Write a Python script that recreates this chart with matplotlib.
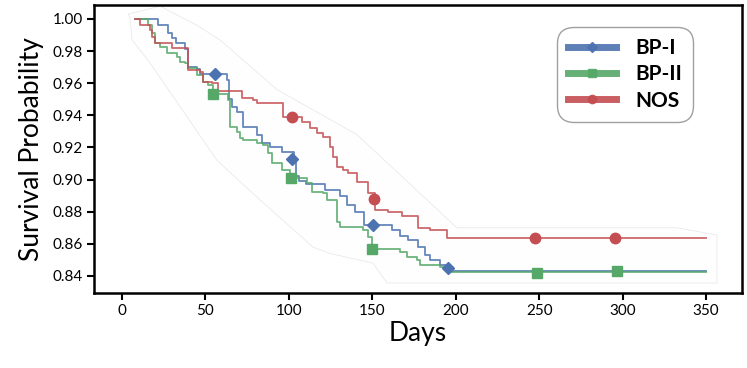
import matplotlib
matplotlib.use("Agg")
import matplotlib.pyplot as plt
import numpy as np
from matplotlib.lines import Line2D

plt.rcParams["font.family"] = ["Lato", "DejaVu Sans"]

# ---- data ----
bp1_days = [8, 21.6, 27.6, 30, 32.4, 37.7, 39.5, 44.9, 46.7, 62.9,
            64.1, 65.9, 68.9, 72.5, 80.9, 83.9, 88.7, 96, 103, 104.5,
            106, 110, 121.6, 130.6, 134.8, 139.6, 145, 161.8, 166.6, 171.4,
            177.4, 181.5, 184.5, 190.5, 194.7, 350]
bp1_surv = [1.0, 0.996, 0.991, 0.988, 0.985, 0.981, 0.970, 0.969, 0.966, 0.962,
            0.950, 0.945, 0.942, 0.933, 0.928, 0.923, 0.920, 0.917, 0.912, 0.902,
            0.899, 0.897, 0.8935, 0.890, 0.884, 0.880, 0.872, 0.8686, 0.865, 0.8624,
            0.858, 0.853, 0.850, 0.8468, 0.8431, 0.8431]

bp2_days = [9, 15.6, 18, 19.8, 22.8, 27, 33, 34.8, 37.7, 39.5,
            44.9, 48.5, 51.5, 54.5, 63.5, 64.7, 68.9, 70.7, 72.5, 80.9,
            84.5, 87.5, 89.9, 95.9, 100.5, 110.8, 113.8, 120.4, 122.8, 128.8,
            130.6, 144.4, 147.4, 149.8, 166.6, 170.8, 176.8, 178.6, 190.5, 194.7,
            350]
bp2_surv = [1.0, 0.996, 0.991, 0.985, 0.9826, 0.979, 0.9763, 0.9732, 0.9726, 0.9695,
            0.9651, 0.9608, 0.9589, 0.9533, 0.9496, 0.9328, 0.9296, 0.9259, 0.9247, 0.9228,
            0.9215, 0.9166, 0.9103, 0.906, 0.901, 0.8979, 0.8923, 0.8917, 0.8873, 0.8736,
            0.8705, 0.8686, 0.8643, 0.8568, 0.8549, 0.8518, 0.8499, 0.8468, 0.8456, 0.8425,
            0.8425]

nos_days = [7.8, 10.8, 16.8, 18, 19.8, 30, 39.5, 46.7, 48.5, 53.9,
            57.5, 71.9, 78.5, 80.9, 96.5, 107.8, 112.6, 116.8, 120.4, 124.6,
            126.4, 128.8, 132.4, 135.4, 140.8, 147.4, 151.5, 159.4, 167.8, 177.4,
            184.5, 194.7, 350]
nos_surv = [1.0, 0.996, 0.993, 0.989, 0.985, 0.982, 0.968, 0.967, 0.961, 0.960,
            0.955, 0.951, 0.9496, 0.948, 0.939, 0.936, 0.932, 0.929, 0.9265, 0.920,
            0.914, 0.908, 0.906, 0.904, 0.8985, 0.8917, 0.881, 0.880, 0.8773, 0.870,
            0.8686, 0.8636, 0.8636]

# marker positions
bp1_mk_days = [55.7, 101.9, 150.4, 195.3]
bp1_mk_vals = [0.966, 0.913, 0.872, 0.845]
bp2_mk_days = [54.6, 101.5, 149.8, 248.6, 296.6]
bp2_mk_vals = [0.953, 0.901, 0.857, 0.842, 0.843]
nos_mk_days = [101.9, 151, 247.5, 295.4]
nos_mk_vals = [0.939, 0.888, 0.8636, 0.8636]

# faint confidence envelope
ci_up_days = [3.6, 22.8, 45, 58.7, 92.9, 140.8, 200.7, 332.5, 356.5]
ci_up_vals = [1.003, 1.008, 0.996, 0.987, 0.956, 0.928, 0.870, 0.870, 0.8655]
ci_lo_days = [4.8, 6, 16.8, 56.9, 80.9, 114.4, 124.6, 150.4, 158.8, 356.5]
ci_lo_vals = [1.001, 0.987, 0.9726, 0.912, 0.889, 0.858, 0.854, 0.848, 0.8356, 0.8356]

labels = ["BP-I", "BP-II", "NOS"]
colors = ["#4c72b0", "#55a868", "#c44e52"]
markers = ["D", "s", "o"]
msizes = [6.5, 7.5, 7.5]
xticks = [0, 50, 100, 150, 200, 250, 300, 350]
yticks = [0.84, 0.86, 0.88, 0.90, 0.92, 0.94, 0.96, 0.98, 1.00]

# ---- figure ----
fig = plt.figure(figsize=(7.47, 3.68), dpi=100)
ax = fig.add_axes([0.1258, 0.2038, 0.8675, 0.7826])

ax.fill(ci_up_days + ci_lo_days[::-1], ci_up_vals + ci_lo_vals[::-1],
        facecolor="#fefefe", edgecolor="#e6e6e6", linewidth=0.5, zorder=1)

series = [(bp1_days, bp1_surv, bp1_mk_days, bp1_mk_vals),
          (bp2_days, bp2_surv, bp2_mk_days, bp2_mk_vals),
          (nos_days, nos_surv, nos_mk_days, nos_mk_vals)]
for (d, s, md, mv), c, m, ms in zip(series, colors, markers, msizes):
    ax.step(d, s, where="post", color=c, lw=1.3, alpha=0.85, zorder=3)
    ax.plot(md, mv, linestyle="none", marker=m, markersize=ms, color=c, zorder=4)

ax.set_xlim(-16.8, 371.5)
ax.set_ylim(0.8294, 1.0087)
ax.set_xticks(xticks)
ax.set_yticks(yticks)
ax.set_yticklabels([f"{t:.2f}" for t in yticks])
ax.tick_params(axis="both", direction="out", length=5, width=1.5, labelsize=11, pad=3)
for sp in ax.spines.values():
    sp.set_linewidth(1.8)

ax.set_xlabel("Days", fontsize=19, labelpad=2)
ax.set_ylabel("Survival Probability", fontsize=19, labelpad=6)

handles = [Line2D([0], [0], color=c, lw=5, alpha=0.9, marker=m, markersize=ms * 0.8)
           for c, m, ms in zip(colors, markers, msizes)]
leg = ax.legend(handles, labels, loc="upper right", bbox_to_anchor=(0.925, 0.925),
                prop={"weight": "bold", "size": 15}, frameon=True, fancybox=True,
                edgecolor="#888888", handlelength=2.3, handletextpad=0.9,
                labelspacing=0.3, borderpad=0.55, borderaxespad=0)
leg.get_frame().set_linewidth(1.0)
leg.get_frame().set_boxstyle("round,pad=0,rounding_size=0.8")

fig.savefig("out.png", dpi=100)
